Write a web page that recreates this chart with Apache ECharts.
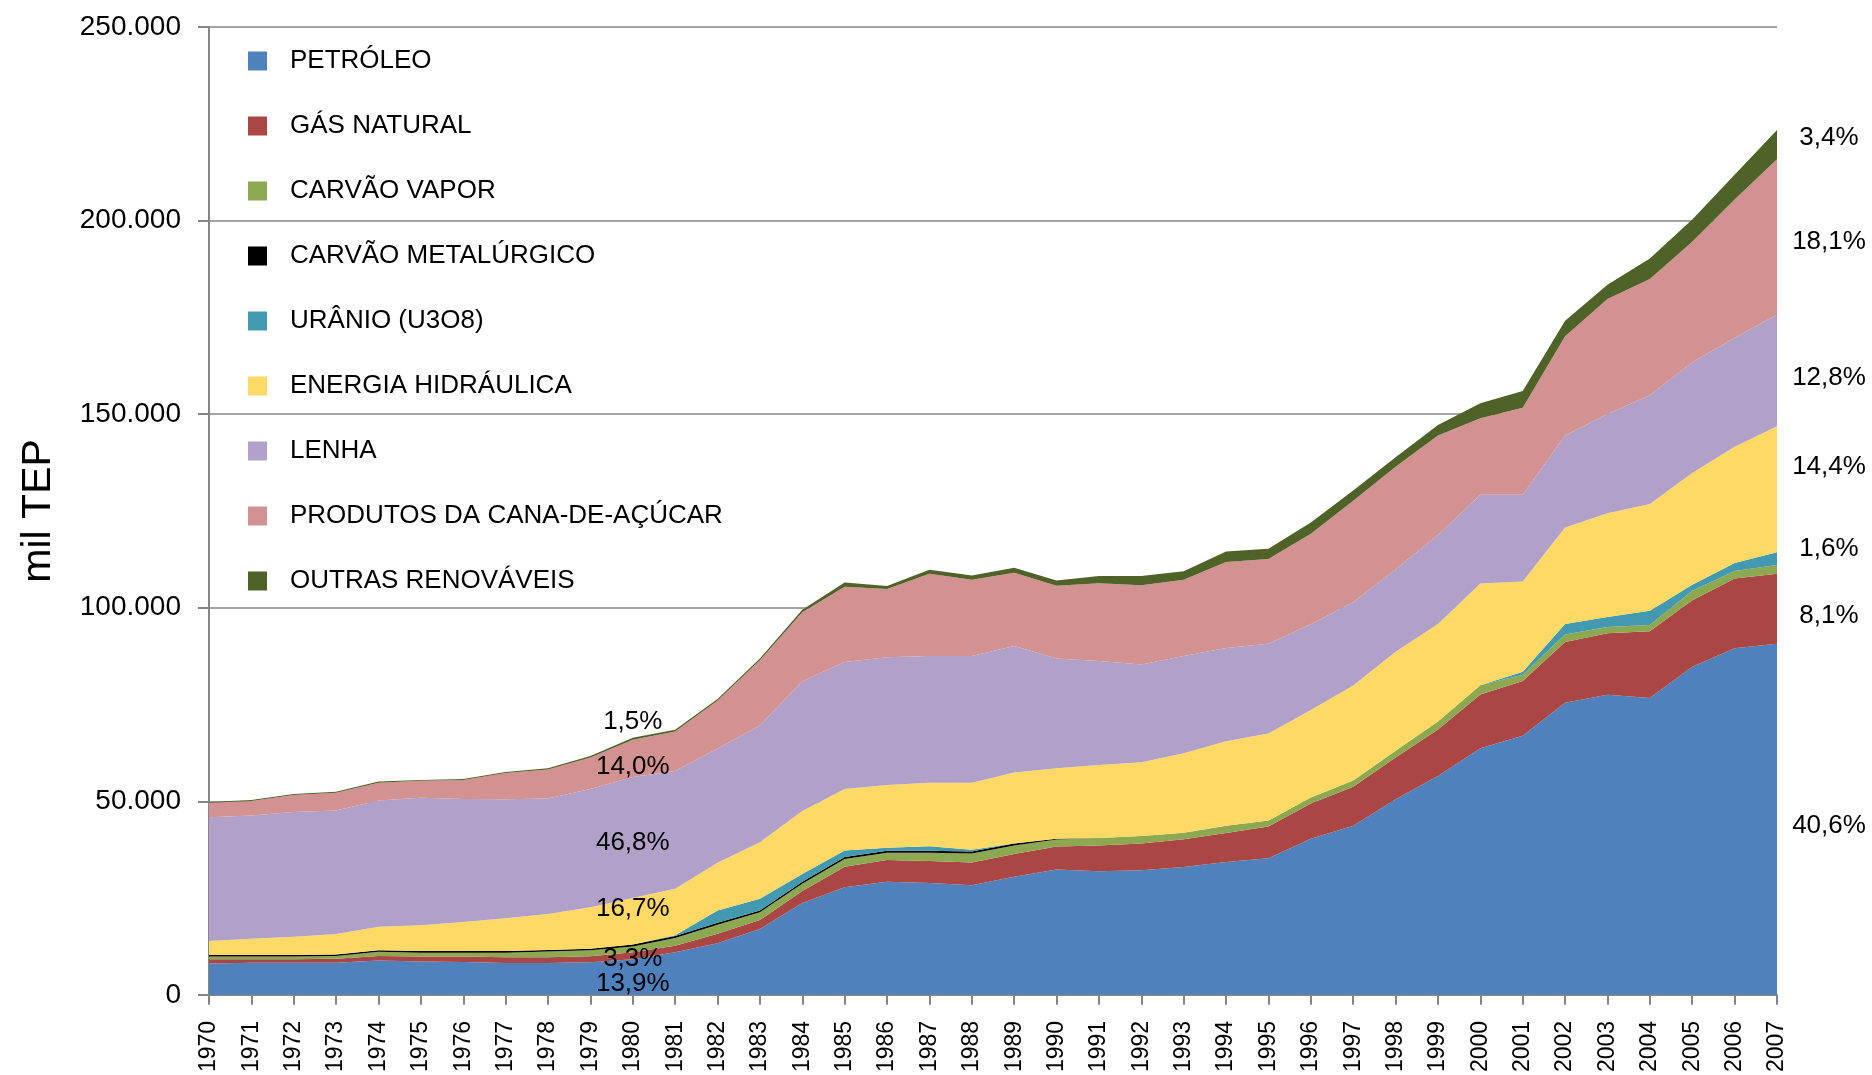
<!DOCTYPE html>
<html>
<head>
<meta charset="utf-8">
<script src="https://cdn.jsdelivr.net/npm/echarts@6/dist/echarts.min.js"></script>
<style>
html,body{margin:0;padding:0;background:#fff;}
#c{width:1872px;height:1075px;}
</style>
</head>
<body>
<div id="c"></div>
<script>
const years = ['1970','1971','1972','1973','1974','1975','1976','1977','1978','1979','1980','1981','1982','1983','1984','1985','1986','1987','1988','1989','1990','1991','1992','1993','1994','1995','1996','1997','1998','1999','2000','2001','2002','2003','2004','2005','2006','2007'];
const yTicks = [0, 50000, 100000, 150000, 200000, 250000];

const petroleo = [8100,8300,8300,8300,8900,8600,8500,8200,8200,8400,9200,11000,13300,17000,23700,27800,29200,28900,28300,30500,32400,31900,32200,33000,34300,35300,40300,43650,50550,56500,63700,66950,75450,77500,76700,84750,89550,90700];
const gasNatural = [1100,900,900,1000,1100,1300,1400,1500,1500,1550,1800,1700,2500,2300,3100,5300,5600,5700,5900,5900,5900,6700,6900,7200,7500,8200,9100,10100,10750,12050,13900,14100,15700,15900,17200,17150,18000,18100];
const carvaoVapor = [700,700,700,700,1100,1000,1000,1200,1500,1550,1500,2000,2300,2000,1900,2000,1900,2100,2300,2200,1800,1900,1900,1700,1900,1500,1600,1600,1750,2050,2350,1600,1950,1600,1600,2450,1900,2250];
const carvaoMet = [400,400,400,400,400,400,400,400,400,400,500,500,500,500,500,500,500,500,500,500,200,0,0,0,0,0,0,0,0,0,0,0,0,0,0,0,0,0];
const uranio = [0,0,0,0,0,0,0,0,0,0,0,200,3200,3000,2000,1700,800,1200,500,0,0,0,0,0,0,0,0,0,0,0,0,800,2700,2600,3700,1600,2100,3250];
const hidraulica = [3600,4200,4700,5300,6100,6700,7500,8500,9300,10700,12000,12000,12300,14600,16300,15900,16200,16400,17300,18300,18200,18900,19100,20500,21800,22500,22600,24550,25550,25200,26300,23300,24900,26800,27600,28850,30000,32550];
const lenha = [32000,31800,32200,31900,32600,32900,31800,30700,29800,30600,31300,30400,29500,30200,33500,32800,33000,32700,32700,32700,28400,26800,25200,25100,24100,23200,22100,21500,21350,22950,22950,22450,23750,25650,28100,28600,28100,28900];
const cana = [3700,3800,4400,4600,4600,4400,4900,6800,7500,8100,9600,10200,12400,16800,17800,19400,17600,21300,19700,18900,18800,20100,20500,19700,22200,21900,23400,26200,26450,25700,19750,22450,25700,29700,30000,31150,35800,40100];
const outras = [200,200,250,250,300,200,250,250,300,400,500,500,400,500,700,1100,800,1000,1100,1300,1300,1900,2400,2200,2700,2600,2900,2700,2450,2750,3850,4350,4000,3700,5300,5750,6400,7550];

const seriesDefs = [
  {name:'PETRÓLEO', data:petroleo, color:'#4F81BD'},
  {name:'GÁS NATURAL', data:gasNatural, color:'#AA4643'},
  {name:'CARVÃO VAPOR', data:carvaoVapor, color:'#8CA952'},
  {name:'CARVÃO METALÚRGICO', data:carvaoMet, color:'#000000'},
  {name:'URÂNIO (U3O8)', data:uranio, color:'#4399B0'},
  {name:'ENERGIA HIDRÁULICA', data:hidraulica, color:'#FFD966'},
  {name:'LENHA', data:lenha, color:'#B1A0C7'},
  {name:'PRODUTOS DA CANA-DE-AÇÚCAR', data:cana, color:'#D29292'},
  {name:'OUTRAS RENOVÁVEIS', data:outras, color:'#4F6228'}
];

// percentage annotations: anchor year + anchor value on the axis
const leftLabels = [
  {text:'1,5%', value:70500},
  {text:'14,0%', value:58900},
  {text:'46,8%', value:39300},
  {text:'16,7%', value:22200},
  {text:'3,3%', value:9300},
  {text:'13,9%', value:2850}
];
const rightLabels = [
  {text:'3,4%', value:221400},
  {text:'18,1%', value:194400},
  {text:'12,8%', value:159500},
  {text:'14,4%', value:136300},
  {text:'1,6%', value:115100},
  {text:'8,1%', value:97800},
  {text:'40,6%', value:43600}
];

const FONT = '"Liberation Sans", Arial, sans-serif';
const chart = echarts.init(document.getElementById('c'), null, {renderer:'canvas'});

function fmt(v){ return String(v).replace(/\B(?=(\d{3})+(?!\d))/g, '.'); }

const option = {
  animation:false,
  backgroundColor:'#fff',
  grid:{left:209, right:95, top:27, bottom:80, containLabel:false},
  legend:{
    orient:'vertical', left:243, top:43,
    itemWidth:19, itemHeight:19, itemGap:39,
    icon:'rect',
    selectedMode:false,
    textStyle:{fontFamily:FONT, fontSize:26, color:'#000', lineHeight:19, padding:[0,0,0,18]},
    data: seriesDefs.map(s=>s.name)
  },
  xAxis:{
    type:'category', data:years, boundaryGap:false,
    axisLine:{lineStyle:{color:'#868686', width:2}},
    axisTick:{show:true, alignWithLabel:true, length:10, lineStyle:{color:'#868686', width:2}, interval:0},
    axisLabel:{rotate:90, interval:0, fontFamily:FONT, fontSize:23, color:'#000', margin:26},
    splitLine:{show:false}
  },
  yAxis:{
    type:'value', min:yTicks[0], max:yTicks[yTicks.length-1], interval:yTicks[1]-yTicks[0],
    name:'mil TEP', nameLocation:'middle', nameGap:150,
    nameTextStyle:{fontFamily:FONT, fontSize:41, color:'#000'},
    axisLine:{show:true, lineStyle:{color:'#868686', width:2}},
    axisTick:{show:true, length:11, lineStyle:{color:'#868686', width:2}},
    axisLabel:{fontFamily:FONT, fontSize:28, color:'#000', margin:28, formatter:fmt},
    splitLine:{show:true, lineStyle:{color:'#868686', width:1.5}}
  },
  series: seriesDefs.map(s=>({
    name:s.name, type:'line', stack:'total', data:s.data,
    symbol:'none', showSymbol:false, smooth:false,
    lineStyle:{width:0, color:s.color},
    itemStyle:{color:s.color},
    areaStyle:{color:s.color, opacity:1},
    emphasis:{disabled:true}
  }))
};
chart.setOption(option);

function placeLabels(){
  const g = [];
  leftLabels.forEach(l=>{
    const p = chart.convertToPixel({xAxisIndex:0, yAxisIndex:0}, ['1980', l.value]);
    g.push({type:'text', x:p[0], y:p[1], style:{text:l.text, fontFamily:FONT, fontSize:26, fill:'#000', align:'center', verticalAlign:'middle'}, z:100});
  });
  rightLabels.forEach(l=>{
    const p = chart.convertToPixel({xAxisIndex:0, yAxisIndex:0}, ['2007', l.value]);
    g.push({type:'text', x:p[0]+52, y:p[1], style:{text:l.text, fontFamily:FONT, fontSize:26, fill:'#000', align:'center', verticalAlign:'middle'}, z:100});
  });
  chart.setOption({graphic:g});
}
placeLabels();
</script>
</body>
</html>
